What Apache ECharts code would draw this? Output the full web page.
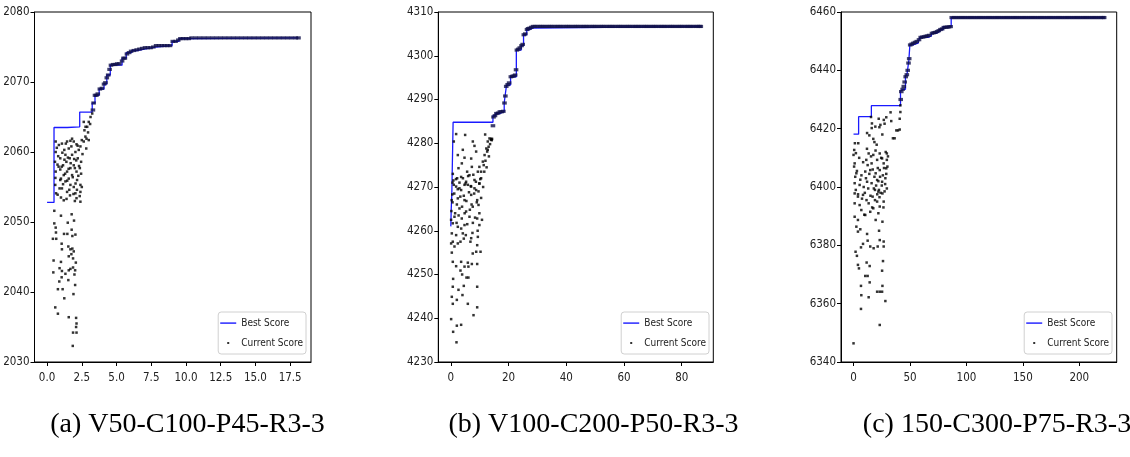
<!DOCTYPE html>
<html>
<head>
<meta charset="utf-8">
<script src="https://cdn.jsdelivr.net/npm/echarts@6/dist/echarts.min.js"></script>
<style>
html,body{margin:0;padding:0;background:#fff;}
#c{width:1130px;height:457px;}
</style>
</head>
<body>
<div id="c"></div>
<script>
// ---------- Panel (a) ----------
const best1 = [[0,2052.8],[0.5,2063.5],[1.45,2063.6],[2.35,2065.7],[3.25,2067.0],[3.45,2068.1],[3.75,2069.0],[4.1,2069.7],[4.3,2071.0],[4.55,2072.4],[5.4,2073.4],[5.7,2074.2],[6.1,2074.5],[6.5,2074.7],[7.0,2074.9],[7.6,2075.0],[7.8,2075.2],[9.0,2075.8],[9.5,2076.2],[10.3,2076.3],[18.1,2076.3]];
const cloud1 = [[0.52,2051.6],[1.0,2050.9],[0.52,2049.8],[0.62,2049.2],[0.64,2048.5],[1.49,2049.9],[1.94,2050.2],[1.77,2051.1],[1.22,2048.3],[1.46,2048.3],[1.77,2048.9],[2.04,2048.2],[1.82,2048.0],[0.42,2047.6],[0.66,2047.6],[1.05,2046.9],[1.07,2046.1],[1.53,2046.5],[1.68,2046.1],[1.82,2046.2],[1.92,2045.8],[1.75,2045.4],[1.56,2045.1],[2.07,2044.2],[1.87,2044.8],[0.47,2044.5],[1.0,2044.3],[0.9,2043.4],[1.07,2043.0],[0.45,2042.8],[1.56,2043.1],[1.68,2043.3],[1.87,2043.5],[2.02,2043.1],[1.32,2042.6],[1.97,2042.5],[0.88,2041.5],[1.05,2042.1],[1.53,2041.7],[2.02,2041.0],[0.78,2040.4],[1.12,2040.4],[1.9,2039.7],[1.24,2039.1],[0.59,2037.8],[0.78,2036.9],[1.56,2036.4],[2.09,2036.3],[2.12,2035.5],[2.09,2035.0],[1.87,2034.2],[2.12,2034.2],[1.85,2032.3],
[0.62,2061.5],[0.62,2060.0],[0.57,2058.6],[0.62,2057.2],[0.59,2055.3],[0.76,2053.9],[0.9,2054.8],[1.0,2056.2],[1.15,2058.1],[1.32,2059.6],[1.44,2061.5],[1.68,2061.6],[1.92,2061.5],[2.12,2061.1],[1.56,2060.5],[1.07,2061.2],[1.24,2060.3],[0.95,2059.1],[0.83,2057.9],[1.39,2058.6],[1.63,2059.1],[1.8,2059.6],[2.04,2060.0],[2.28,2060.3],[2.4,2060.8],[2.21,2059.1],[1.92,2058.1],[1.68,2057.7],[1.44,2057.2],[1.2,2056.7],[0.95,2056.0],[1.32,2055.8],[1.56,2056.2],[1.8,2056.7],[2.12,2057.2],[2.36,2057.7],[2.45,2058.6],[2.16,2056.0],[2.4,2055.3],[1.92,2055.0],[1.68,2055.3],[1.07,2054.8],[1.44,2054.3],[2.04,2054.1],[2.4,2054.3],[2.12,2053.4],[1.2,2053.1],
[0.7,2060.6],[0.8,2059.4],[0.85,2061.0],[0.95,2057.5],[1.1,2059.9],[1.15,2055.4],[1.25,2058.9],[1.3,2056.9],[1.35,2061.2],[1.45,2055.9],[1.5,2059.2],[1.55,2057.6],[1.6,2054.6],[1.7,2058.4],[1.75,2060.8],[1.85,2056.4],[1.9,2054.0],[1.95,2059.0],[2.0,2057.7],[2.05,2055.5],[2.1,2058.8],[2.15,2054.6],[2.2,2060.9],[2.25,2056.6],[2.3,2058.0],[2.35,2053.7],[2.45,2056.9],[2.5,2055.0],[2.55,2059.7],[2.5,2061.7],[0.6,2056.3],[0.65,2054.1],[0.75,2058.2],[1.0,2053.5],[1.05,2057.9],[1.4,2053.3],[1.65,2053.8],[1.8,2061.9],[2.0,2053.0],[2.4,2052.9],
[2.64,2061.5],[2.76,2062.2],[2.69,2063.1],[2.89,2063.6],[3.0,2064.3],[3.13,2065.0],[3.25,2065.5],[2.84,2061.9],[2.64,2064.3],[2.77,2063.6],[3.0,2061.7],[2.82,2060.5],[2.95,2062.8],[3.1,2064.0]];
const online1 = [[3.3,2066.0],[3.35,2067.0],[3.45,2068.1],[3.55,2068.1],[3.65,2068.3],[3.8,2069.0],[3.95,2069.1],[4.1,2069.7],[4.2,2069.9],[4.3,2070.6],[4.4,2071.0],[4.5,2071.8],[4.6,2072.4],[4.75,2072.5],[4.9,2072.5],[5.05,2072.6],[5.2,2072.6],[5.4,2073.0],[5.5,2073.4],[5.6,2073.4],[5.75,2074.0],[5.9,2074.2],[6.05,2074.4],[6.25,2074.5],[6.45,2074.6],[6.65,2074.7],[6.85,2074.8],[7.05,2074.9],[7.25,2074.9],[7.45,2074.9],[7.65,2075.0],[7.85,2075.2],[8.05,2075.2],[8.25,2075.2],[8.45,2075.2],[8.65,2075.2],[8.85,2075.2],[9.05,2075.8],[9.25,2075.8],[9.45,2076.0],[9.6,2076.2],[9.8,2076.2],[10.0,2076.2],[10.2,2076.2],[10.4,2076.3],[10.7,2076.3],[11.0,2076.3],[11.3,2076.3],[11.6,2076.3],[11.9,2076.3],[12.2,2076.3],[12.5,2076.3],[12.8,2076.3],[13.1,2076.3],[13.4,2076.3],[13.7,2076.3],[14.0,2076.3],[14.3,2076.3],[14.6,2076.3],[14.9,2076.3],[15.2,2076.3],[15.5,2076.3],[15.8,2076.3],[16.1,2076.3],[16.4,2076.3],[16.7,2076.3],[17.0,2076.3],[17.3,2076.3],[17.6,2076.3],[17.9,2076.3],[18.1,2076.3]];
const xTicks1 = [0,2.5,5,7.5,10,12.5,15,17.5];
const yTicks1 = [2030,2040,2050,2060,2070,2080];

// ---------- Panel (b) ----------
const best2 = [[0,4261.0],[0.15,4265.0],[0.35,4268.3],[0.8,4284.8],[14.6,4286.3],[15.5,4286.8],[17.0,4287.2],[18.5,4289.2],[18.8,4290.8],[19.3,4293.3],[20.7,4295.2],[22.7,4301.3],[24.4,4302.3],[25.2,4304.8],[26.3,4305.9],[27.1,4306.3],[28.4,4306.7],[86.6,4306.7]];
const cloud2 = [[0.35,4259.4],[0.69,4257.5],[0.12,4257.1],[0.35,4255.0],[0.69,4252.9],[3.58,4252.9],[1.85,4251.9],[5.9,4252.7],[7.29,4252.4],[9.14,4252.4],[6.1,4251.8],[4.75,4251.8],[3.35,4250.9],[3.93,4250.0],[5.43,4249.3],[6.1,4249.3],[0.81,4249.0],[0.69,4247.2],[4.5,4247.4],[2.66,4246.5],[9.14,4247.2],[4.04,4245.3],[0.35,4244.9],[2.09,4244.2],[0.69,4243.3],[5.9,4243.3],[9.14,4242.5],[7.87,4240.7],[0.12,4239.8],[2.09,4238.3],[3.58,4238.5],[0.81,4236.9],[1.97,4234.5],
[1.85,4270.1],[3.58,4269.3],[5.9,4270.5],[8.2,4269.7],[9.9,4270.8],[2.43,4267.4],[4.75,4267.0],[7.06,4268.2],[9.14,4267.0],[3.0,4265.1],[5.3,4264.4],[7.6,4265.5],[9.6,4265.9],[1.27,4263.2],[3.8,4262.8],[6.47,4263.2],[9.14,4262.8],[0.69,4261.7],[2.43,4260.9],[4.75,4261.3],[7.64,4261.8],[9.9,4261.3],[1.85,4259.0],[4.16,4259.4],[7.06,4258.3],[9.37,4258.6],[2.43,4257.1],[3.35,4257.5],[9.14,4256.7],[10.3,4255.2],[8.8,4255.2],[7.6,4254.8],[1.27,4256.4],
[1.85,4282.1],[4.97,4281.9],[1.04,4280.4],[7.63,4280.4],[8.2,4279.4],[4.16,4278.5],[2.43,4277.3],[4.75,4276.7],[7.06,4276.5],[8.78,4278.1],[3.82,4275.4],[2.66,4274.3],[5.66,4273.5],[7.29,4274.6],[2.2,4272.0],[3.58,4272.3],[5.3,4271.2],[6.47,4272.7],[8.2,4271.6],[9.37,4273.5],[1.04,4270.5],[3.0,4269.7],[4.75,4270.5],[7.06,4270.1],[8.78,4269.3],[9.9,4270.8],
[10.5,4273.5],[11.1,4275.8],[11.7,4277.3],[12.3,4278.8],[12.8,4280.4],[13.4,4281.1],[14.0,4281.0],[14.2,4280.7],[11.9,4282.0],[10.5,4272.0],[9.9,4274.6],[11.4,4275.0],[12.6,4278.1],[13.1,4279.2],
[0.6,4266.5],[0.9,4271.5],[1.2,4268.5],[1.5,4264.0],[1.8,4271.8],[2.1,4266.0],[2.4,4269.5],[2.7,4263.5],[3.0,4271.0],[3.3,4267.8],[3.6,4260.5],[3.9,4265.5],[4.2,4272.0],[4.5,4268.0],[4.8,4264.0],[5.1,4270.8],[5.4,4266.8],[5.7,4261.5],[6.0,4272.5],[6.3,4268.8],[6.6,4264.8],[6.9,4270.2],[7.2,4266.0],[7.5,4259.5],[7.8,4272.8],[8.1,4268.5],[8.4,4263.0],[8.7,4271.2],[9.0,4266.5],[9.3,4260.0],[9.6,4269.0],[9.9,4264.0],[10.2,4271.8],[10.5,4267.5],[10.8,4262.5],[11.2,4270.0],[11.6,4273.5],[12.0,4276.0],[12.4,4274.5],[12.8,4278.5],[13.2,4277.0],[13.6,4279.8],[13.9,4280.8],[14.3,4281.0],[4.5,4258.2],[2.0,4261.8],[6.8,4257.5],[5.2,4259.0],
[0.1,4262.5],[0.2,4264.5],[0.3,4267.0],[0.5,4268.3],[0.6,4271.0],[0.7,4273.0]];
const online2 = [[14.6,4284.0],[14.8,4286.0],[15.3,4286.3],[15.8,4286.8],[16.4,4286.9],[17.0,4287.2],[17.6,4287.2],[18.2,4287.3],[18.6,4289.2],[18.9,4290.8],[19.2,4293.0],[19.7,4293.4],[20.2,4293.8],[20.8,4295.2],[21.3,4295.3],[21.8,4295.4],[22.3,4295.6],[22.6,4296.8],[22.9,4301.3],[23.4,4301.5],[23.9,4301.8],[24.5,4302.3],[24.9,4302.6],[25.3,4304.8],[25.8,4305.0],[26.4,4306.0],[26.8,4306.2],[27.3,4306.3],[27.9,4306.5],[28.5,4306.7],[29.2,4306.7],[30,4306.7],[30.8,4306.7],[31.5,4306.7],[32.2,4306.7],[33,4306.7],[33.8,4306.7],[34.5,4306.7],[35.2,4306.7],[36,4306.7],[36.8,4306.7],[37.5,4306.7],[38.2,4306.7],[39,4306.7],[39.8,4306.7],[40.5,4306.7],[41.2,4306.7],[42,4306.7],[42.8,4306.7],[43.5,4306.7],[44.2,4306.7],[45,4306.7],[45.8,4306.7],[46.5,4306.7],[47.2,4306.7],[48,4306.7],[48.8,4306.7],[49.5,4306.7],[50.2,4306.7],[51,4306.7],[51.8,4306.7],[52.5,4306.7],[53.2,4306.7],[54,4306.7],[54.8,4306.7],[55.5,4306.7],[56.2,4306.7],[57,4306.7],[57.8,4306.7],[58.5,4306.7],[59.2,4306.7],[60,4306.7],[60.8,4306.7],[61.5,4306.7],[62.2,4306.7],[63,4306.7],[63.8,4306.7],[64.5,4306.7],[65.2,4306.7],[66,4306.7],[66.8,4306.7],[67.5,4306.7],[68.2,4306.7],[69,4306.7],[69.8,4306.7],[70.5,4306.7],[71.2,4306.7],[72,4306.7],[72.8,4306.7],[73.5,4306.7],[74.2,4306.7],[75,4306.7],[75.8,4306.7],[76.5,4306.7],[77.2,4306.7],[78,4306.7],[78.8,4306.7],[79.5,4306.7],[80.2,4306.7],[81,4306.7],[81.8,4306.7],[82.5,4306.7],[83.2,4306.7],[84,4306.7],[84.8,4306.7],[85.5,4306.7],[86.2,4306.7],[86.6,4306.7]];
const xTicks2 = [0,20,40,60,80];
const yTicks2 = [4230,4240,4250,4260,4270,4280,4290,4300,4310];

// ---------- Panel (c) ----------
const best3 = [[0,6418.1],[4.5,6424.1],[15.8,6427.9],[41.6,6432.7],[43.3,6433.5],[46.0,6437.8],[47.5,6439.0],[49.0,6443.5],[49.9,6448.7],[52.7,6449.3],[57.2,6449.9],[58.7,6451.3],[66.0,6451.8],[69.0,6452.7],[73.4,6453.3],[76.4,6454.0],[79.4,6455.0],[86.5,6458.1],[222.0,6458.1]];
const cloud3 = [[0.0,6346.4],[23.2,6352.7],[6.6,6358.2],[28.2,6360.9],[25.3,6364.1],[23.2,6364.1],[13.4,6362.2],[6.9,6362.9],[20.9,6364.1],[25.6,6366.1],[6.6,6366.1],[14.3,6367.3],[10.4,6369.5],[12.5,6369.5],[25.3,6371.3],[26.1,6374.6],[3.9,6373.3],[4.8,6372.1],[11.6,6374.1],[14.3,6372.9],[3.0,6376.4],[1.8,6377.8],[6.6,6379.3],[8.4,6380.5],[12.5,6381.6],[14.8,6379.6],[17.8,6379.0],[21.4,6379.6],[26.7,6379.6],[23.2,6381.8],[26.7,6381.3],[3.9,6384.7],[6.0,6385.5],[12.0,6383.9],[22.6,6385.0],[2.5,6386.4],[1.0,6389.8],[3.9,6388.7],[6.9,6392.1],[10.4,6390.4],[14.8,6391.5],[19.6,6388.7],[25.6,6388.1],[22.0,6391.0],[17.5,6392.7],[23.2,6393.3],[1.0,6394.4],[5.4,6393.8],[13.4,6394.4],[20.9,6395.0],[26.7,6395.0],[1.0,6397.8],[3.9,6396.7],[8.4,6397.3],[16.9,6396.7],[22.0,6398.4],[25.6,6397.8],[19.0,6399.0],[1.0,6401.3],[5.4,6400.7],[12.0,6401.8],[16.0,6401.3],[20.9,6402.4],[25.3,6401.8],[28.2,6403.0],[2.5,6404.7],[10.4,6405.3],[14.8,6405.8],[19.6,6404.7],[23.2,6405.8],[29.0,6406.4],[1.0,6408.1],[11.3,6409.3],[16.0,6408.1],[20.9,6409.3],[26.7,6408.1],[29.5,6409.3],[0.0,6411.0],[13.4,6411.5],[17.5,6411.0],[23.2,6411.5],[29.5,6411.5],[25.3,6409.8],
[1.2,6415.0],[4.2,6415.0],[2.1,6411.6],[15.5,6424.0],[16.1,6420.2],[22.3,6423.4],[22.9,6420.5],[18.5,6415.4],[14.0,6417.7],[11.9,6413.1],[27.5,6421.7],[29.0,6423.9],[32.8,6425.6],[33.4,6422.6],[34.9,6416.7],[36.4,6416.7],[37.9,6419.4],[39.4,6419.4],[40.9,6419.7],[40.9,6423.4],[41.5,6425.7],[41.5,6428.0],[0.6,6412.7],[16.3,6421.8],[23.8,6421.3],[26.8,6423.0],[19.3,6420.7],
[0.5,6407.0],[1.5,6403.5],[2.0,6399.0],[3.0,6405.5],[4.0,6397.5],[5.0,6410.0],[6.0,6402.5],[7.0,6404.0],[7.5,6396.0],[8.5,6408.5],[9.0,6400.0],[9.5,6390.5],[10.0,6398.0],[11.0,6403.0],[11.5,6395.5],[12.5,6407.5],[13.0,6399.5],[14.0,6404.5],[15.0,6397.0],[15.5,6410.5],[16.5,6393.0],[17.0,6406.0],[18.0,6399.5],[18.5,6403.5],[19.0,6395.5],[19.5,6412.5],[20.0,6400.5],[21.0,6397.5],[21.5,6406.5],[22.0,6402.0],[22.5,6399.0],[23.0,6396.5],[23.5,6403.5],[24.0,6398.0],[24.5,6410.0],[25.0,6400.5],[26.0,6404.0],[26.5,6393.0],[27.0,6406.5],[27.5,6398.5],[28.0,6401.0],[28.5,6412.0],[29.0,6404.5],[29.5,6399.5],[30.0,6407.0],[30.5,6410.5],[20.5,6414.5],[17.5,6416.5],[25.5,6418.0],[12.0,6418.5]];
const online3 = [[41.8,6430.0],[42.3,6432.7],[43.5,6433.5],[44.5,6434.5],[45.3,6436.0],[46.2,6437.8],[47.2,6438.5],[48.0,6440.0],[48.7,6442.5],[49.3,6444.0],[50.2,6448.7],[51.5,6449.0],[53,6449.3],[54.5,6449.6],[56,6449.9],[58,6450.5],[59.5,6451.3],[61,6451.4],[62.5,6451.5],[64,6451.7],[65.5,6451.8],[67,6452.0],[69.5,6452.7],[71,6452.9],[72.5,6453.0],[74,6453.3],[75.5,6453.6],[77,6454.0],[78.5,6454.2],[80,6454.7],[81.5,6454.8],[83,6454.8],[84.5,6454.9],[86,6455.0],[87,6458.1],[89,6458.1],[91,6458.1],[93,6458.1],[95,6458.1],[97,6458.1],[99,6458.1],[101,6458.1],[103,6458.1],[105,6458.1],[107,6458.1],[109,6458.1],[111,6458.1],[113,6458.1],[115,6458.1],[117,6458.1],[119,6458.1],[121,6458.1],[123,6458.1],[125,6458.1],[127,6458.1],[129,6458.1],[131,6458.1],[133,6458.1],[135,6458.1],[137,6458.1],[139,6458.1],[141,6458.1],[143,6458.1],[145,6458.1],[147,6458.1],[149,6458.1],[151,6458.1],[153,6458.1],[155,6458.1],[157,6458.1],[159,6458.1],[161,6458.1],[163,6458.1],[165,6458.1],[167,6458.1],[169,6458.1],[171,6458.1],[173,6458.1],[175,6458.1],[177,6458.1],[179,6458.1],[181,6458.1],[183,6458.1],[185,6458.1],[187,6458.1],[189,6458.1],[191,6458.1],[193,6458.1],[195,6458.1],[197,6458.1],[199,6458.1],[201,6458.1],[203,6458.1],[205,6458.1],[207,6458.1],[209,6458.1],[211,6458.1],[213,6458.1],[215,6458.1],[217,6458.1],[219,6458.1],[221,6458.1],[222,6458.1]];
const xTicks3 = [0,50,100,150,200];
const yTicks3 = [6340,6360,6380,6400,6420,6440,6460];

const captions = ['(a) V50-C100-P45-R3-3','(b) V100-C200-P50-R3-3','(c) 150-C300-P75-R3-3'];

// ---------- build ----------
const TICK_FONT = "'DejaVu Sans',sans-serif";
const TICK_STRETCH = 'condensed';
const panels = [
  {best:best1, cloud:cloud1, online:online1, xt:xTicks1, yt:yTicks1, xmin:-0.905, xmax:19.0, fmt:v=>v.toFixed(1), left:34.5, width:276.5, legRight:824, capX:182.5},
  {best:best2, cloud:cloud2, online:online2, xt:xTicks2, yt:yTicks2, xmin:-4.33, xmax:90.93, fmt:v=>String(v), left:438.3, width:275, legRight:421, capX:588.5},
  {best:best3, cloud:cloud3, online:online3, xt:xTicks3, yt:yTicks3, xmin:-11.1, xmax:233.1, fmt:v=>String(v), left:841, width:275.7, legRight:18, capX:992}
];

const grids=[], xAxes=[], yAxes=[], series=[], legends=[], titles=[];
panels.forEach((p,i)=>{
  grids.push({left:p.left, top:12, width:p.width, height:350, show:true, borderColor:'#000', borderWidth:1, backgroundColor:'#fff'});
  xAxes.push({type:'value', gridIndex:i, min:p.xmin, max:p.xmax,
    axisLine:{show:true, onZero:false, lineStyle:{color:'#000',width:1}},
    axisTick:{show:true, length:4, customValues:p.xt, lineStyle:{color:'#000'}},
    axisLabel:{customValues:p.xt, formatter:p.fmt, color:'#222', fontSize:11.5, fontStyle:TICK_STRETCH, fontFamily:TICK_FONT, margin:10},
    splitLine:{show:false}});
  yAxes.push({type:'value', gridIndex:i, min:p.yt[0], max:p.yt[p.yt.length-1],
    axisLine:{show:true, onZero:false, lineStyle:{color:'#000',width:1}},
    axisTick:{show:true, length:4, customValues:p.yt, lineStyle:{color:'#000'}},
    axisLabel:{customValues:p.yt, formatter:v=>String(v), color:'#222', fontSize:11.5, fontStyle:TICK_STRETCH, fontFamily:TICK_FONT, margin:5},
    splitLine:{show:false}});
  series.push({name:'Best Score', type:'line', xAxisIndex:i, yAxisIndex:i, step:'end', symbol:'none', showSymbol:false,
    data:p.best, lineStyle:{color:'#1a1aff', width:1.3}, itemStyle:{color:'#1a1aff'}, z:2});
  series.push({name:'Current Score', type:'scatter', xAxisIndex:i, yAxisIndex:i, symbol:'rect', symbolSize:2.5,
    data:p.cloud, itemStyle:{color:'#000'}, z:3});
  series.push({name:'Current Score', type:'scatter', xAxisIndex:i, yAxisIndex:i, symbol:'rect', symbolSize:[4.6,3.2],
    data:p.online, itemStyle:{color:'#10104a'}, z:3});
  legends.push({right:p.legRight, top:312, orient:'vertical', padding:[4,3,4,2], itemGap:6, itemWidth:16, itemHeight:14,
    backgroundColor:'#fff', borderColor:'#d0d0d0', borderWidth:1, borderRadius:3,
    textStyle:{fontSize:10, fontStyle:TICK_STRETCH, fontFamily:TICK_FONT, color:'#222'},
    data:[{name:'Best Score', icon:'path://M0,0M16,14M0,6.4h16v1.4h-16z', itemStyle:{color:'#1a1aff'}},
          {name:'Current Score', icon:'path://M0,0M16,14M7,6h2v2h-2z', itemStyle:{color:'#000'}}]});
  titles.push({text:captions[i], left:p.capX, top:406, textAlign:'center',
    textStyle:{fontFamily:"'Liberation Serif','DejaVu Serif',serif", fontWeight:'normal', fontSize:28, color:'#000'}});
});

const chart = echarts.init(document.getElementById('c'));
chart.setOption({animation:false, backgroundColor:'#fff', title:titles, grid:grids, xAxis:xAxes, yAxis:yAxes, legend:legends, series:series});
</script>
</body>
</html>
